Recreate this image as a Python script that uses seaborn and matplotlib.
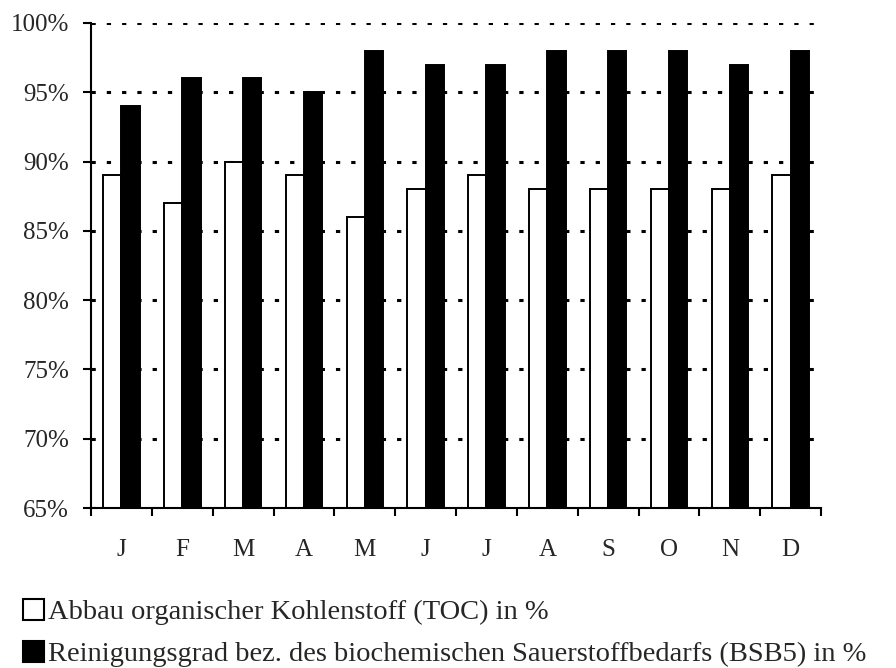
import matplotlib
matplotlib.use("Agg")
import matplotlib.pyplot as plt
import seaborn as sns
import pandas as pd
from matplotlib.ticker import FuncFormatter, FixedLocator
from matplotlib.patches import Patch

months = ["J", "F", "M", "A", "M", "J", "J", "A", "S", "O", "N", "D"]
toc = [89, 87, 90, 89, 86, 88, 89, 88, 88, 88, 88, 89]
bsb5 = [94, 96, 96, 95, 98, 97, 97, 98, 98, 98, 97, 98]
series_names = ["Abbau organischer Kohlenstoff (TOC) in %",
                "Reinigungsgrad bez. des biochemischen Sauerstoffbedarfs (BSB5) in %"]
y_ticks = [65, 70, 75, 80, 85, 90, 95, 100]

idx = list(range(len(months)))
df = pd.DataFrame({
    "pos": idx * 2,
    "value": toc + bsb5,
    "series": [series_names[0]] * len(months) + [series_names[1]] * len(months),
})

sns.set_style("white")
plt.rcParams["font.family"] = ["Liberation Serif", "DejaVu Serif"]

fig = plt.figure(figsize=(8.96, 6.68), dpi=100)
ax = fig.add_axes([0.1016, 0.2395, 0.8147, 0.7261])

sns.barplot(data=df, x="pos", y="value", hue="series", order=idx,
            hue_order=series_names, palette=["white", "black"],
            edgecolor="black", linewidth=1.4, width=0.6, ax=ax,
            legend=False, errorbar=None, saturation=1)

ax.set_ylim(65, 100)
ax.set_xlim(-0.5, len(months) - 0.5)
ax.set_yticks(y_ticks)
ax.yaxis.set_major_formatter(FuncFormatter(lambda v, p: f"{v:.0f}%"))
ax.set_xticks(idx)
ax.set_xticklabels(months)
ax.xaxis.set_minor_locator(FixedLocator([i - 0.5 for i in range(len(months) + 1)]))
ax.tick_params(axis="x", which="major", length=0, pad=22, labelsize=18)
ax.tick_params(axis="x", which="minor", length=6, width=1.5, color="black", direction="out", bottom=True)
ax.tick_params(axis="y", length=6, width=1.5, color="black", direction="out", left=True, labelsize=18, pad=10)
ax.set_xlabel("")
ax.set_ylabel("")

ax.set_axisbelow(True)
ax.yaxis.grid(True, color="black", linewidth=2.2, linestyle=(0, (1.4, 3.6)))
ax.xaxis.grid(False)
for s in ["top", "right"]:
    ax.spines[s].set_visible(False)
for s in ["left", "bottom"]:
    ax.spines[s].set_color("black")
    ax.spines[s].set_linewidth(1.5)

handles = [Patch(facecolor="white", edgecolor="black", linewidth=1.5),
           Patch(facecolor="black", edgecolor="black", linewidth=1.5)]
fig.legend(handles, series_names, loc="upper left", bbox_to_anchor=(0.0257, 0.103),
           frameon=False, fontsize=20.5, handlelength=0.72, handleheight=0.74,
           handletextpad=0.14, labelspacing=0.55, borderaxespad=0, borderpad=0)

fig.savefig("out.png", dpi=100)
